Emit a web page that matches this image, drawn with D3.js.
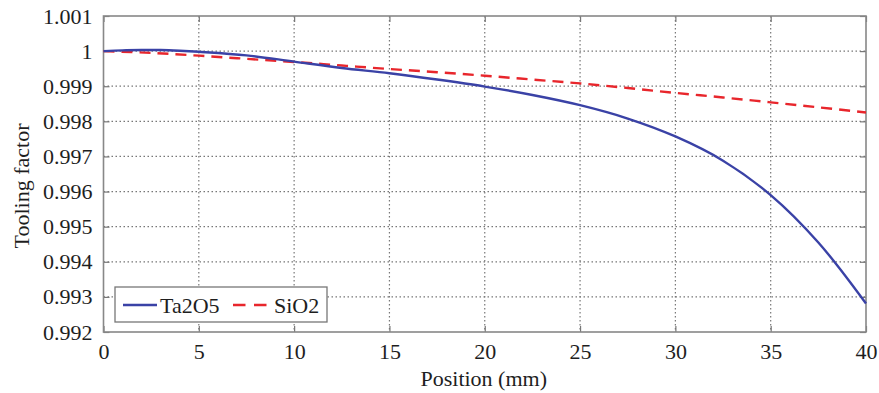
<!DOCTYPE html>
<html>
<head>
<meta charset="utf-8">
<script src="https://cdn.jsdelivr.net/npm/d3@7"></script>
<style>
  html, body { margin: 0; padding: 0; background: #fff; }
  svg { display: block; }
</style>
</head>
<body>
<svg id="chart" width="879" height="393"></svg>
<script>
// Position along the substrate (mm)
const taPositions = [0, 1, 2, 3, 4, 5, 7.5, 10, 12.5, 15, 17.5, 20, 22.5, 25, 27.5, 30, 32.5, 35, 37.5, 40];
const taTooling   = [1.00000, 1.00002, 1.00003, 1.00003, 1.00001, 0.99998, 0.99988, 0.99970, 0.99952, 0.99937,
                     0.99919, 0.99899, 0.99875, 0.99846, 0.99808, 0.99757, 0.99688, 0.99590, 0.99455, 0.99281];

const siPositions = [0, 2.5, 5, 7.5, 10, 12.5, 15, 17.5, 20, 22.5, 25, 27.5, 30, 32.5, 35, 37.5, 40];
const siTooling   = [1.00000, 0.99995, 0.99987, 0.99978, 0.99969, 0.99959, 0.99949, 0.99940, 0.99930,
                     0.99919, 0.99908, 0.99895, 0.99881, 0.99868, 0.99854, 0.99840, 0.99825];

const xTicks = [0, 5, 10, 15, 20, 25, 30, 35, 40];
const yTicks = [0.992, 0.993, 0.994, 0.995, 0.996, 0.997, 0.998, 0.999, 1, 1.001];
const seriesNames = ["Ta2O5", "SiO2"];

const svg = d3.select("#chart");
const plotL = 103.5, plotR = 866, plotT = 16, plotB = 332;
const fontSize = 22;
const serif = '"Liberation Serif", "Times New Roman", serif';
const ink = "#1e1e1e";
const blue = "#3a42a6", red = "#e8262c";

const x = d3.scaleLinear().domain([0, 40]).range([plotL, plotR]);
const y = d3.scaleLinear().domain([0.992, 1.001]).range([plotB, plotT]);

// grid
const grid = svg.append("g").attr("stroke", "#777").attr("stroke-width", 1.2)
  .attr("stroke-dasharray", "1.5,2.5");
grid.selectAll("line.v").data(xTicks.slice(1, -1)).join("line").attr("class", "v")
  .attr("x1", d => x(d)).attr("x2", d => x(d)).attr("y1", plotT).attr("y2", plotB);
grid.selectAll("line.h").data(yTicks.slice(1, -1)).join("line").attr("class", "h")
  .attr("x1", plotL).attr("x2", plotR).attr("y1", d => y(d)).attr("y2", d => y(d));

// axes (ticks pointing inward)
const fmtY = d => d === 1 ? "1" : d3.format(".3f")(d);
const axisB = svg.append("g").attr("transform", `translate(0,${plotB})`)
  .call(d3.axisBottom(x).tickValues(xTicks).tickSizeInner(-6).tickSizeOuter(0).tickPadding(11));
const axisL = svg.append("g").attr("transform", `translate(${plotL},0)`)
  .call(d3.axisLeft(y).tickValues(yTicks).tickFormat(fmtY).tickSizeInner(-6).tickSizeOuter(0).tickPadding(11));
const axisT = svg.append("g").attr("transform", `translate(0,${plotT})`)
  .call(d3.axisTop(x).tickValues(xTicks).tickSizeInner(-6).tickSizeOuter(0).tickFormat(""));
const axisR = svg.append("g").attr("transform", `translate(${plotR},0)`)
  .call(d3.axisRight(y).tickValues(yTicks).tickSizeInner(-6).tickSizeOuter(0).tickFormat(""));
[axisB, axisL, axisT, axisR].forEach(a => {
  a.select(".domain").remove();
  a.selectAll(".tick line").attr("stroke", "#777").attr("stroke-width", 1.2);
  a.selectAll("text").style("font-family", serif).style("font-size", fontSize + "px").attr("fill", ink);
});

// frame
svg.append("rect").attr("x", plotL).attr("y", plotT).attr("width", plotR - plotL).attr("height", plotB - plotT)
  .attr("fill", "none").attr("stroke", "#888").attr("stroke-width", 1.6);

// curves
const line = d3.line().x(d => x(d[0])).y(d => y(d[1])).curve(d3.curveCatmullRom);
svg.append("path").datum(siPositions.map((p, i) => [p, siTooling[i]]))
  .attr("d", line).attr("fill", "none").attr("stroke", red)
  .attr("stroke-width", 2.4).attr("stroke-dasharray", "11,7");
svg.append("path").datum(taPositions.map((p, i) => [p, taTooling[i]]))
  .attr("d", line).attr("fill", "none").attr("stroke", blue).attr("stroke-width", 2.4);

// text helper
const label = (g, px, py, str, anchor) => g.append("text").attr("x", px).attr("y", py)
  .attr("text-anchor", anchor || "start").style("font-family", serif)
  .style("font-size", fontSize + "px").attr("fill", ink).text(str);

// axis titles
label(svg, (plotL + plotR) / 2 - 1, 386, "Position (mm)", "middle");
label(svg.append("g").attr("transform", `translate(29,186) rotate(-90)`), 0, 0, "Tooling factor", "middle");

// legend
const lg = svg.append("g");
lg.append("rect").attr("x", 115).attr("y", 287).attr("width", 212).attr("height", 35)
  .attr("fill", "#fff").attr("stroke", "#777").attr("stroke-width", 1.3);
lg.append("line").attr("x1", 123).attr("x2", 157).attr("y1", 305).attr("y2", 305)
  .attr("stroke", blue).attr("stroke-width", 2.4);
label(lg, 160, 313, seriesNames[0]);
lg.append("line").attr("x1", 233).attr("x2", 267).attr("y1", 305).attr("y2", 305)
  .attr("stroke", red).attr("stroke-width", 2.4).attr("stroke-dasharray", "12.5,8.5");
label(lg, 274, 313, seriesNames[1]);
</script>
</body>
</html>
